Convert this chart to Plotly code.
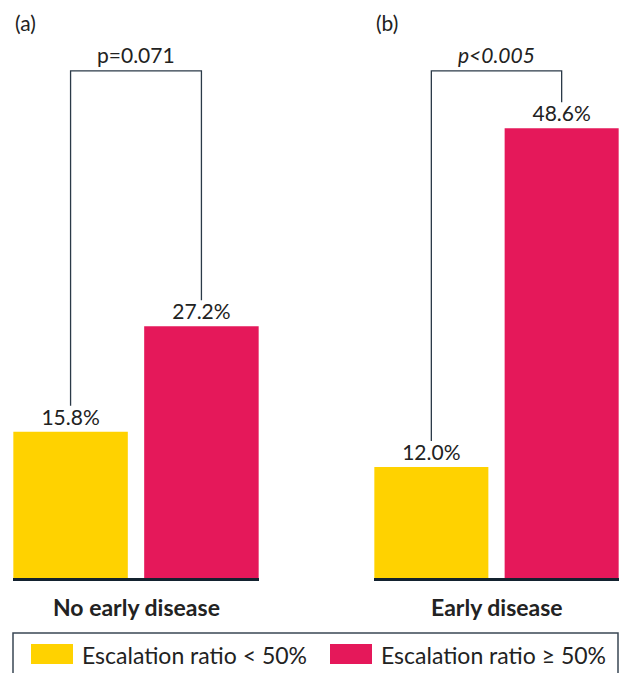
import plotly.graph_objects as go

# ---- data ----
panels = ["(a)", "(b)"]
groups = ["No early disease", "Early disease"]
series_names = ["Escalation ratio < 50%", "Escalation ratio \u2265 50%"]
low_ratio = [15.8, 12.0]    # escalation ratio < 50%
high_ratio = [27.2, 48.6]   # escalation ratio >= 50%
p_values = ["p=0.071", "<i>p&lt;0.005</i>"]

# ---- style ----
W, H = 619, 673
colors = ["#FFD200", "#E5185A"]
bracket_color = "#2B3A48"
base_color = "#13222F"
text_color = "#222222"
FONT = "Lato"
y_max = 62.45
bracket_top = 54.8
leg_gap = 2.8
bar_w = 0.875
x_rng = [-0.44, 1.44]


def px(x):
    return x / W


def py(y):
    return 1 - y / H


domains = [[px(13), px(259)], [px(374), 1.0]]
y_dom = [py(578), 1.0]

fig = go.Figure()
shapes = []
annotations = []

for i in range(2):
    xa = "x" if i == 0 else "x2"
    ya = "y" if i == 0 else "y2"
    vals = [low_ratio[i], high_ratio[i]]
    for j in range(2):
        fig.add_trace(go.Bar(
            x=[j], y=[vals[j]], width=bar_w,
            marker=dict(color=colors[j], line=dict(width=0)),
            name=series_names[j], showlegend=False,
            texttemplate="%{y:.1f}%", textposition="outside",
            textfont=dict(family=FONT, size=21, color=text_color),
            cliponaxis=False, xaxis=xa, yaxis=ya, hoverinfo="skip",
        ))
    # significance bracket
    shapes.append(dict(
        type="path", xref=xa, yref=ya,
        path=f"M 0,{vals[0] + leg_gap} L 0,{bracket_top} L 1,{bracket_top} L 1,{vals[1] + leg_gap}",
        line=dict(color=bracket_color, width=1.3),
    ))
    annotations.append(dict(
        text=p_values[i], xref=xa, yref=ya, x=0.5, y=bracket_top,
        xanchor="center", yanchor="bottom", yshift=2, showarrow=False,
        font=dict(family=FONT, size=21, color=text_color),
    ))
    annotations.append(dict(
        text=panels[i], xref=f"{xa} domain", yref="paper", x=0, y=py(23),
        xanchor="left", yanchor="middle", xshift=0, showarrow=False,
        font=dict(family=FONT, size=21, color=text_color),
    ))
    annotations.append(dict(
        text=f"<b>{groups[i]}</b>", xref=f"{xa} domain", yref="paper", x=0.5, y=py(607),
        xanchor="center", yanchor="middle", showarrow=False,
        font=dict(family=FONT, size=23, color=text_color),
    ))

# ---- custom legend ----
shapes.append(dict(type="rect", xref="paper", yref="paper",
                   x0=px(13), x1=px(618), y0=py(700), y1=py(633),
                   line=dict(color="#3A4754", width=1.5), fillcolor="rgba(0,0,0,0)"))
leg_x = [31, 330]
for j in range(2):
    shapes.append(dict(type="rect", xref="paper", yref="paper",
                       x0=px(leg_x[j]), x1=px(leg_x[j] + 42), y0=py(664), y1=py(644),
                       line=dict(width=0), fillcolor=colors[j]))
    annotations.append(dict(
        text=series_names[j], xref="paper", yref="paper", x=px(leg_x[j] + 49), y=py(655),
        xanchor="left", yanchor="middle", showarrow=False,
        font=dict(family=FONT, size=23, color=text_color),
    ))

axis_common = dict(range=x_rng, showticklabels=False, ticks="", showgrid=False,
                   zeroline=False, showline=True, linecolor=base_color, linewidth=3,
                   fixedrange=True)
yaxis_common = dict(range=[0, y_max], domain=y_dom, showticklabels=False, ticks="",
                    showgrid=False, zeroline=False, showline=False, fixedrange=True)

fig.update_layout(
    width=W, height=H,
    margin=dict(l=0, r=0, t=0, b=0),
    paper_bgcolor="white", plot_bgcolor="white",
    barmode="overlay",
    showlegend=False,
    hovermode=False,
    xaxis=dict(domain=domains[0], anchor="y", **axis_common),
    xaxis2=dict(domain=domains[1], anchor="y2", **axis_common),
    yaxis=dict(anchor="x", **yaxis_common),
    yaxis2=dict(anchor="x2", **yaxis_common),
    shapes=shapes,
    annotations=annotations,
    font=dict(family=FONT, color=text_color),
)

fig.write_html(
    "out.html",
    config={"displayModeBar": False, "staticPlot": True},
    post_script="document.body.style.margin='0';document.body.style.overflow='hidden';",
)
